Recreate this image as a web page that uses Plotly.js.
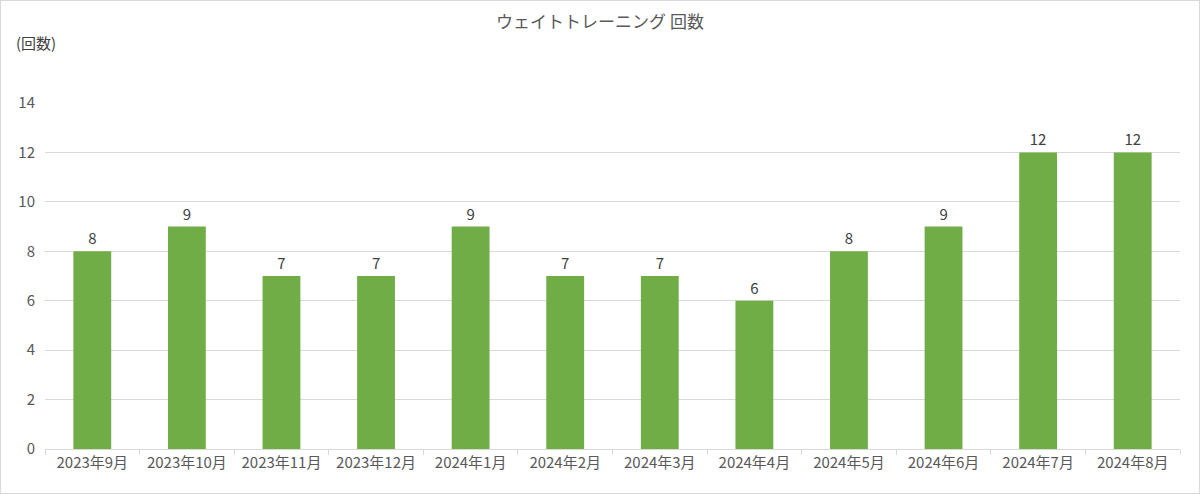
<!DOCTYPE html>
<html>
<head>
<meta charset="utf-8">
<script src="https://cdn.plot.ly/plotly-3.0.1.min.js"></script>
<style>
  body { margin: 0; background: #fff; }
  #chart { width: 1198px; height: 492px; border: 1px solid #d9d9d9; }
</style>
</head>
<body>
<div id="chart"></div>
<script>
// months and workout counts
const months = ['2023年9月', '2023年10月', '2023年11月', '2023年12月', '2024年1月', '2024年2月',
  '2024年3月', '2024年4月', '2024年5月', '2024年6月', '2024年7月', '2024年8月'];
const counts = [8, 9, 7, 7, 9, 7, 7, 6, 8, 9, 12, 12];
const yTicks = [0, 2, 4, 6, 8, 10, 12, 14];

const font = '"Noto Sans CJK JP", "Noto Sans", sans-serif';

let barData = {
  type: 'bar',
  x: months,
  y: counts,
  width: 0.4,
  marker: { color: '#70ad47' },
  text: counts.map(String),
  textposition: 'outside',
  textfont: { size: 15, color: '#404040', family: font },
  cliponaxis: false,
  hoverinfo: 'x+y'
};

let layout = {
  width: 1198,
  height: 492,
  margin: { l: 44, r: 19, t: 102, b: 44 },
  paper_bgcolor: '#fff',
  plot_bgcolor: '#fff',
  font: { family: font, color: '#595959', size: 15 },
  title: {
    text: 'ウェイトトレーニング 回数',
    font: { size: 17, color: '#595959', family: font },
    x: 0.5, xref: 'container',
    y: 1 - 21 / 492, yref: 'container', yanchor: 'middle'
  },
  showlegend: false,
  bargap: 0.6,
  xaxis: {
    type: 'category',
    showline: true,
    linecolor: '#d9d9d9',
    ticks: 'outside',
    tickson: 'boundaries',
    ticklen: 5,
    tickcolor: '#d9d9d9',
    showgrid: false,
    tickfont: { size: 15, color: '#595959' }
  },
  yaxis: {
    range: [0, 14],
    tickvals: yTicks,
    showgrid: true,
    gridcolor: '#d9d9d9',
    zeroline: false,
    showline: false,
    ticks: '',
    ticklabelstandoff: 9,
    tickfont: { size: 15, color: '#595959' }
  },
  annotations: [{
    text: '(回数)',
    xref: 'paper', yref: 'paper',
    x: (13 - 44) / 1135, y: 1 + (102 - 42) / 346,
    xanchor: 'left', yanchor: 'middle',
    showarrow: false,
    font: { size: 15, color: '#404040' }
  }]
};

Plotly.newPlot('chart', [barData], layout, { staticPlot: true });
</script>
</body>
</html>
